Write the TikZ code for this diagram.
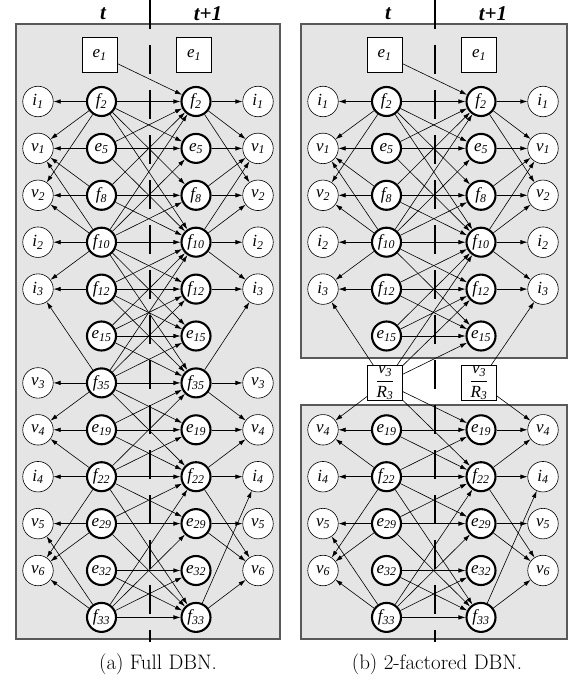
\documentclass[tikz,border=0pt]{standalone}
\usepackage{fontspec}
\newfontfamily\tms{Liberation Serif}
\usetikzlibrary{arrows.meta}
\newcommand\lb[2]{{\tms\itshape #1\textsubscript{#2}}}
\tikzset{
  panel/.style={draw=black!65, line width=1.2pt, fill=black!10},
  obs/.style={circle, draw, line width=0.6pt, fill=white, minimum size=30.5pt, inner sep=0pt, font=\fontsize{17}{17}\selectfont},
  hid/.style={obs, line width=2.1pt, minimum size=29pt},
  ebox/.style={rectangle, draw, line width=0.6pt, fill=white, minimum width=35pt, minimum height=35pt, inner sep=0pt, font=\fontsize{17}{17}\selectfont},
  edge/.style={-{Latex[length=7pt,width=4.5pt]}, line width=0.6pt},
  timeline/.style={line width=2.6pt, dash pattern=on 29pt off 16pt},
  tlabel/.style={font=\fontsize{21}{21}\selectfont\tms\bfseries\itshape},
  caption/.style={font=\fontsize{21}{21}\selectfont}
}
% common part of a panel (coordinates of panel a)
\newcommand\commonpart{%
  \coordinate (top) at (150,0);
  \coordinate (bot) at (150,642);
  \node[tlabel] (tl) at (103,14) {t};
  \node[tlabel] (tnl) at (208,14) {t+1};
  \node[ebox] (te1) at (99.5,55) {\lb{e}{1}};
  \node[ebox] (ne1) at (194,55) {\lb{e}{1}};
  \foreach \l/\n/\k in {f/2/1, e/5/2, f/8/3, f/10/4, f/12/5, e/15/6, e/19/8, f/22/9, e/29/10, e/32/11, f/33/12}{
    \node[hid] (t\l\n) at (101.5,{101.5+46.9*(\k-1)}) {\lb{\l}{\n}};
    \node[hid] (n\l\n) at (196,{101.5+46.9*(\k-1)}) {\lb{\l}{\n}};
  }
  \foreach \l/\n/\k in {i/1/1, v/1/2, v/2/3, i/2/4, i/3/5, v/4/8, i/4/9, v/5/10, v/6/11}{
    \node[obs] (L\l\n) at (38,{101.5+46.9*(\k-1)}) {\lb{\l}{\n}};
    \node[obs] (R\l\n) at (258,{101.5+46.9*(\k-1)}) {\lb{\l}{\n}};
  }
  \foreach \s/\d in {f2/i1, f2/v1, f2/v2, e5/v1, f8/v2, f8/v1, f10/v1, f10/v2, f10/i2, f10/i3, f12/i3,
                     e19/v4, f22/v4, f22/i4, f22/v6, e29/v5, e29/v6, f33/v5, f33/v6}{
    \draw[edge] (t\s) -- (L\d);
  }
  \foreach \s/\d in {f2/i1, f2/v1, f2/v2, e5/v1, f8/v1, f8/v2, f10/v1, f10/v2, f10/i2, f10/i3, f12/i3,
                     e19/v4, f22/v4, f22/i4, f22/v6, e29/v5, e29/v6, f33/i4, f33/v6}{
    \draw[edge] (n\s) -- (R\d);
  }
  \draw[edge] (te1) -- (nf2);
  \foreach \s/\d in {f2/f2, f2/e5, f2/f8, f2/f10, e5/e5, e5/f2, e5/f10, f8/f8, f8/f2, f8/f10,
                     f10/f10, f10/f2, f10/e5, f10/f8, f10/f12, f10/e15,
                     f12/f12, f12/f10, f12/e15, e15/e15, e15/f10, e15/f12,
                     e19/e19, e19/f22, f22/f22, f22/e19, f22/e29, f22/f33,
                     e29/e29, e29/f22, e29/f33, e32/e32, e32/f33,
                     f33/f33, f33/f22, f33/e29, f33/e32}{
    \draw[edge] (t\s) -- (n\d);
  }
}
\begin{document}
\begin{tikzpicture}[x=1pt,y=-1pt]
  \useasboundingbox (0,0) rectangle (574,682);
  \fill[white] (0,0) rectangle (574,682);
  \draw[panel] (16,24) rectangle (280,639);
  \draw[panel] (301,24) rectangle (567,358);
  \draw[panel] (301,405) rectangle (567,639);
  % panel (a)
  \begin{scope}[name prefix=a-]
    \commonpart
    \node[hid] (tf35) at (101.5,382.9) {\lb{f}{35}};
    \node[hid] (nf35) at (196,382.9) {\lb{f}{35}};
    \node[obs] (Lv3) at (38,382.9) {\lb{v}{3}};
    \node[obs] (Rv3) at (258,382.9) {\lb{v}{3}};
    \foreach \d in {i3, v3, v4}{
      \draw[edge] (tf35) -- (L\d);
      \draw[edge] (nf35) -- (R\d);
    }
    \foreach \s/\d in {f35/f35, f35/f10, f35/f12, f35/e15, f35/e19, f35/f22,
                       f10/f35, f12/f35, e15/f35, e19/f35, f22/f35}{
      \draw[edge] (t\s) -- (n\d);
    }
    \draw[timeline] (top) -- (bot);
    \node[caption] (cap) at (158,664) {(a) Full DBN.};
  \end{scope}
  % panel (b)
  \begin{scope}[xshift=285pt, name prefix=b-]
    \commonpart
    \node[ebox] (tf35) at (100,382.9) {$\displaystyle\frac{\hbox{\lb{v}{3}}}{\hbox{\lb{R}{3}}}$};
    \node[ebox] (nf35) at (194,382.9) {$\displaystyle\frac{\hbox{\lb{v}{3}}}{\hbox{\lb{R}{3}}}$};
    \foreach \d in {i3, v4}{
      \draw[edge] (tf35) -- (L\d);
      \draw[edge] (nf35) -- (R\d);
    }
    \foreach \d in {f10, f12, e15, e19, f22}{
      \draw[edge] (tf35) -- (n\d);
    }
    \draw[timeline] (top) -- (bot);
    \node[caption] (cap) at (152,664) {(b) 2-factored DBN.};
  \end{scope}
\end{tikzpicture}
\end{document}
